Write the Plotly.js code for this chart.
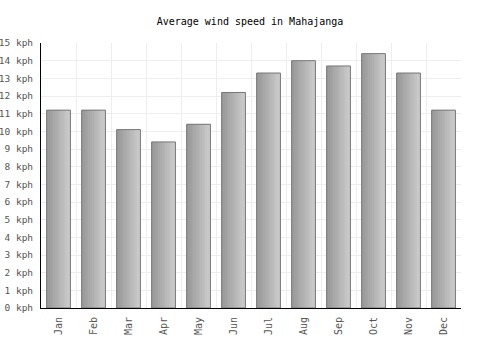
<!DOCTYPE html>
<html>
<head>
<meta charset="utf-8">
<script src="https://cdn.plot.ly/plotly-3.0.1.min.js"></script>
<style>html,body{margin:0;padding:0;background:#fff;}#chart{width:500px;height:350px;}</style>
</head>
<body>
<div id="chart"></div>
<script>
const months = ["Jan","Feb","Mar","Apr","May","Jun","Jul","Aug","Sep","Oct","Nov","Dec"];
const windKph = [11.2, 11.2, 10.1, 9.4, 10.4, 12.2, 13.3, 14.0, 13.7, 14.4, 13.3, 11.2];
const yTickVals = [0,1,2,3,4,5,6,7,8,9,10,11,12,13,14,15];
const yTickText = yTickVals.map(v => v + " kph");

// gradient simulated by overlaid strips
const barWidth = 0.68;
const nStrips = 14;
const traces = [];
function lerp(a, b, t) { return Math.round(a + (b - a) * t); }
for (let i = 0; i < nStrips; i++) {
  const t = i / (nStrips - 1);
  const c = lerp(0x98, 0xcc, t);
  const w = barWidth / nStrips;
  traces.push({
    type: "bar", x: months, y: windKph,
    width: w + 0.004, offset: -barWidth / 2 + i * w,
    marker: { color: `rgb(${c},${c},${c})`, line: { width: 0 } },
    hoverinfo: "skip", showlegend: false
  });
}
traces.push({
  type: "bar", x: months, y: windKph,
  width: barWidth, offset: -barWidth / 2,
  marker: { color: "rgba(0,0,0,0)", line: { color: "#777777", width: 1 } },
  showlegend: false
});

const layout = {
  width: 500, height: 350,
  margin: { l: 41, r: 39, t: 43, b: 42 },
  paper_bgcolor: "#ffffff", plot_bgcolor: "#ffffff",
  barmode: "overlay",
  title: {
    text: "Average wind speed in Mahajanga",
    font: { family: "DejaVu Sans Mono", size: 10, color: "#000000" },
    x: 0.5, xanchor: "center", y: 0.94, yanchor: "middle"
  },
  xaxis: {
    type: "category",
    tickson: "boundaries",
    showgrid: true, gridcolor: "#eeeeee", gridwidth: 1,
    showline: true, linecolor: "#000000", linewidth: 1,
    ticks: "", tickangle: -90, ticklabelstandoff: 4,
    tickfont: { family: "DejaVu Sans Mono", size: 10, color: "#555555" },
    zeroline: false, fixedrange: true
  },
  yaxis: {
    range: [0, 15],
    tickvals: yTickVals, ticktext: yTickText,
    showgrid: true, gridcolor: "#eeeeee", gridwidth: 1,
    showline: true, linecolor: "#000000", linewidth: 1,
    ticks: "", ticklabelstandoff: 5,
    tickfont: { family: "DejaVu Sans Mono", size: 9.5, color: "#555555" },
    zeroline: false, fixedrange: true
  },
  bargap: 0
};

Plotly.newPlot("chart", traces, layout, { displayModeBar: false, staticPlot: true });
</script>
</body>
</html>
